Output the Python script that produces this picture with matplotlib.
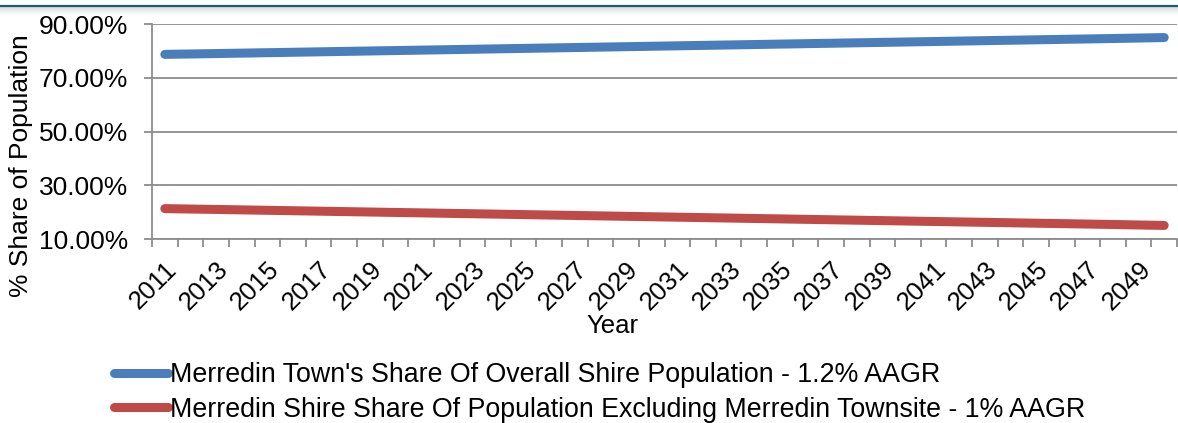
import numpy as np
import matplotlib
matplotlib.use("Agg")
import matplotlib.pyplot as plt
from matplotlib.lines import Line2D
from matplotlib.transforms import ScaledTranslation

plt.rcParams["font.family"] = ["Liberation Sans", "DejaVu Sans"]

years = list(range(2011, 2051))
town_share = [78.70, 78.85, 79.00, 79.16, 79.32, 79.48, 79.64, 79.80, 79.96, 80.12,
              80.28, 80.44, 80.60, 80.76, 80.92, 81.08, 81.24, 81.40, 81.56, 81.72,
              81.88, 82.04, 82.20, 82.36, 82.52, 82.68, 82.84, 83.00, 83.16, 83.32,
              83.48, 83.64, 83.80, 83.96, 84.12, 84.28, 84.44, 84.60, 84.78, 84.95]
rest_share = [21.30, 21.15, 21.00, 20.84, 20.68, 20.52, 20.36, 20.20, 20.04, 19.88,
              19.72, 19.56, 19.40, 19.24, 19.08, 18.92, 18.76, 18.60, 18.44, 18.28,
              18.12, 17.96, 17.80, 17.64, 17.48, 17.32, 17.16, 17.00, 16.84, 16.68,
              16.52, 16.36, 16.20, 16.04, 15.88, 15.72, 15.56, 15.40, 15.22, 15.05]
y_ticks = [10, 30, 50, 70, 90]
series_labels = ["Merredin Town's Share Of Overall Shire Population - 1.2% AAGR",
                 "Merredin Shire Share Of Population Excluding Merredin Townsite - 1% AAGR"]
colors = ["#4A7EBB", "#BE4B48"]
grid_color = "#8C8C8C"

W, H = 1178, 423
fig = plt.figure(figsize=(W / 100, H / 100), dpi=100)

# header rule with a soft shadow underneath
shade = fig.add_axes([0, 1 - 15 / H, 1, 8 / H])
grad = np.linspace(0.86, 1.0, 50).reshape(-1, 1)
shade.imshow(np.repeat(grad, 2, axis=1), cmap="gray", vmin=0, vmax=1,
             aspect="auto", extent=[0, 1, 0, 1], origin="upper")
shade.set_axis_off()
fig.add_artist(Line2D([0, 1], [1 - 6.5 / H, 1 - 6.5 / H], transform=fig.transFigure,
                      color="#1B5E6B", linewidth=1.6))

ax = fig.add_axes([152 / W, 1 - 239 / H, (1177 - 152) / W, (239 - 24) / H])
x = np.arange(len(years))
for vals, c, lab in zip([town_share, rest_share], colors, series_labels):
    ax.plot(x, vals, color=c, linewidth=6.5, solid_capstyle="round", label=lab)

ax.set_xlim(-0.5, len(years) - 0.5)
ax.set_ylim(10, 90)
ax.set_yticks(y_ticks)
ax.set_yticklabels([f"{v:.2f}%" for v in y_ticks], fontsize=19)
ax.grid(axis="y", color=grid_color, linewidth=1.3)
ax.set_axisbelow(True)

ax.set_xticks(np.arange(-0.5, len(years)), minor=False)
ax.set_xticklabels([])
ax.set_xticks(x[::2], minor=True)
ax.set_xticklabels([str(y) for y in years[::2]], minor=True, fontsize=18.5,
                   rotation=45, ha="right", va="top", rotation_mode="anchor")
shift = ScaledTranslation(1 / 100, 0, fig.dpi_scale_trans)
for lbl in ax.get_xticklabels(minor=True):
    lbl.set_transform(lbl.get_transform() + shift)
ax.tick_params(axis="x", which="major", length=6, width=1.3, color=grid_color, direction="out")
ax.tick_params(axis="x", which="minor", length=0, pad=13)
ax.tick_params(axis="y", length=6, width=1.3, color=grid_color, pad=11)

for s in ["top", "right"]:
    ax.spines[s].set_visible(False)
for s in ["left", "bottom"]:
    ax.spines[s].set_color(grid_color)
    ax.spines[s].set_linewidth(1.3)

fig.text(21 / W, 1 - 166 / H, "% Share of Population", rotation=90,
         ha="center", va="center", fontsize=19)
fig.text(612 / W, 1 - 333 / H, "Year", ha="center", va="baseline", fontsize=18.5)

handles, labels = ax.get_legend_handles_labels()
fig.legend(handles, labels, loc="upper left", bbox_to_anchor=(114 / W, 1 - 362 / H),
           frameon=False, fontsize=19.3, handlelength=2.0, handletextpad=0.1,
           labelspacing=0.32, borderpad=0, borderaxespad=0)

fig.savefig("out.png", dpi=100)
